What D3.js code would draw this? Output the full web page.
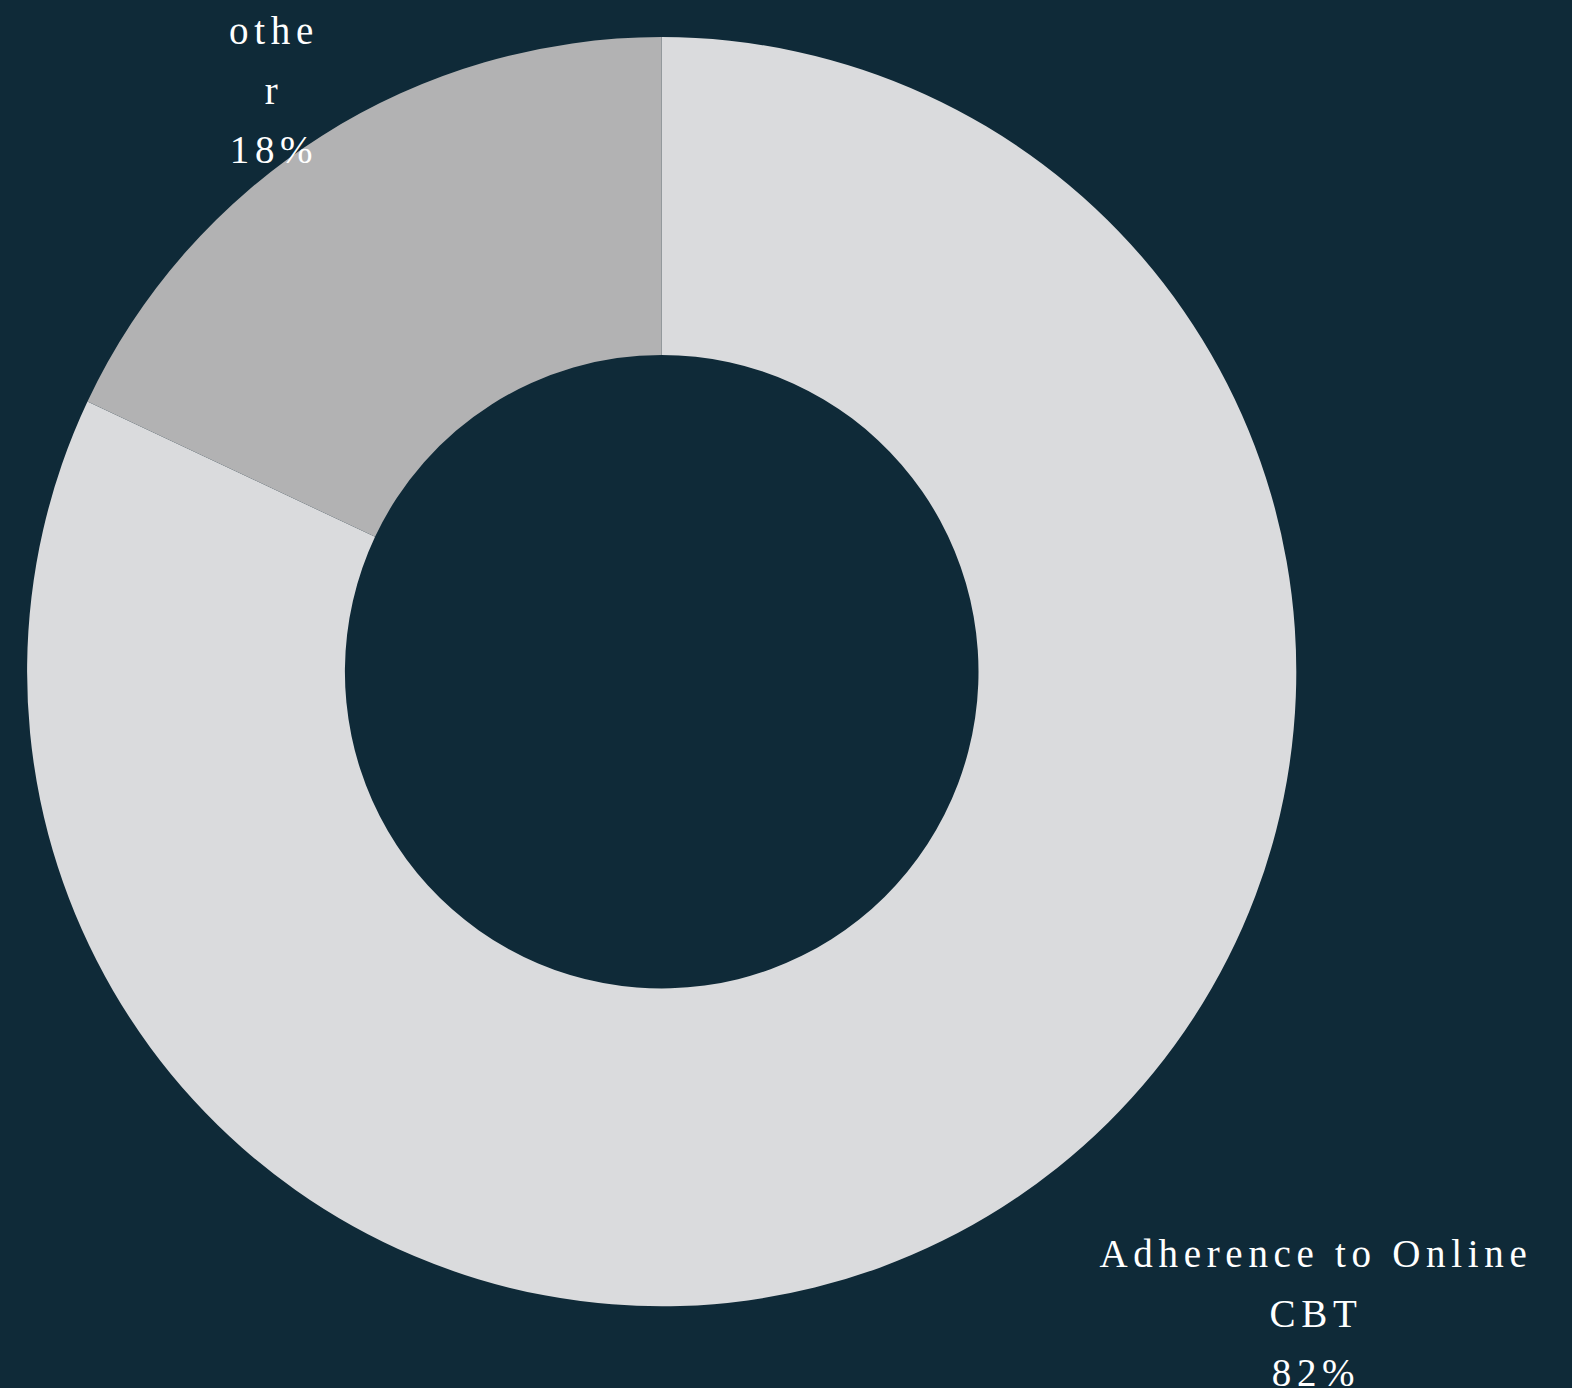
<!DOCTYPE html>
<html>
<head>
<meta charset="utf-8">
<script src="https://cdn.jsdelivr.net/npm/d3@7"></script>
<style>
  html, body { margin: 0; padding: 0; background: #0f2a38; }
  svg { display: block; }
</style>
</head>
<body>
<svg width="1572" height="1388"></svg>
<script>
var svg = d3.select("svg"),
    width = +svg.attr("width"),
    height = +svg.attr("height");

// data
var categories = ["Adherence to Online CBT", "other"];
var values = [82, 18];
var labelLines = [["Adherence to Online", "CBT", "82%"], ["othe", "r", "18%"]];

var colors = ["#dadbdd", "#b2b2b3"];

var cx = 661.7, cy = 671.7,
    outerR = 634.6, innerR = 316.8;

var pie = d3.pie().sort(null).value(function (d) { return d; });
var arc = d3.arc().innerRadius(innerR).outerRadius(outerR);

var g = svg.append("g").attr("transform", "translate(" + cx + "," + cy + ")");

g.selectAll("path")
    .data(pie(values))
    .enter().append("path")
    .attr("d", arc)
    .attr("fill", function (d, i) { return colors[i]; });

// label anchors (text box centres, first baseline)
var labelPos = [{ x: 1316, y: 1267 }, { x: 274, y: 44 }];
var lineH = 59.5;

svg.selectAll("text.lbl")
    .data(labelLines)
    .enter().append("text")
    .attr("class", "lbl")
    .attr("text-anchor", "middle")
    .attr("font-family", "'Liberation Serif', 'Times New Roman', serif")
    .attr("font-size", 39)
    .attr("letter-spacing", 5.7)
    .attr("fill", "#ffffff")
    .each(function (lines, i) {
        d3.select(this).selectAll("tspan")
            .data(lines)
            .enter().append("tspan")
            .attr("x", labelPos[i].x)
            .attr("y", function (d, j) { return labelPos[i].y + j * lineH; })
            .text(function (d) { return d; });
    });
</script>
</body>
</html>
